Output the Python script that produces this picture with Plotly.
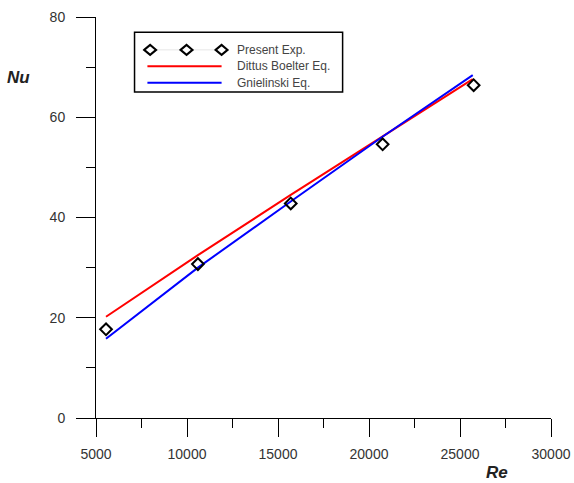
import plotly.graph_objects as go

# Experimental data
re_exp = [5550, 10600, 15700, 20750, 25750]
nu_exp = [17.7, 30.7, 42.8, 54.6, 66.4]

# Correlation lines
re_line = [5550, 10600, 15700, 20700, 25700]
nu_dittus = [20.2, 32.5, 44.5, 56.0, 67.6]
nu_gniel = [15.8, 30.0, 43.2, 56.0, 68.4]

x_ticks = [5000, 10000, 15000, 20000, 25000, 30000]
x_ticktext = ["5000", "10000", "15000", "20000", "25000", "30000"]
y_ticks = [0, 20, 40, 60, 80]
y_ticktext = ["0", "20", "40", "60", "80"]

legend_names = ["Present Exp.", "Dittus Boelter Eq.", "Gnielinski Eq."]

fig = go.Figure()
fig.add_trace(go.Scatter(x=re_line, y=nu_dittus, mode="lines",
                         line=dict(color="#ff0000", width=2), name=legend_names[1]))
fig.add_trace(go.Scatter(x=re_line, y=nu_gniel, mode="lines",
                         line=dict(color="#0000ff", width=2), name=legend_names[2]))
fig.add_trace(go.Scatter(x=re_exp, y=nu_exp, mode="markers",
                         marker=dict(symbol="diamond-open", size=9, color="black",
                                     line=dict(width=2, color="black")),
                         name=legend_names[0]))

tickfont = dict(family="Arial, Liberation Sans", size=14, color="#333333")

fig.update_xaxes(range=[5000, 30000], tickvals=x_ticks, ticktext=x_ticktext,
                 showgrid=False, zeroline=False,
                 showline=True, linecolor="black", linewidth=1,
                 ticks="outside", ticklen=18, tickcolor="black", tickwidth=1,
                 minor=dict(ticks="outside", ticklen=9, dtick=2500, tickcolor="black", tickwidth=1),
                 tickfont=tickfont, ticklabelstandoff=5, automargin=False)
fig.update_yaxes(range=[0, 80], tickvals=y_ticks, ticktext=y_ticktext,
                 showgrid=False, zeroline=False,
                 showline=True, linecolor="black", linewidth=1,
                 ticks="outside", ticklen=19, tickcolor="black", tickwidth=1,
                 minor=dict(ticks="outside", ticklen=9, dtick=10, tickcolor="black", tickwidth=1),
                 tickfont=tickfont, ticklabelstandoff=8, automargin=False)

# Custom legend box
shapes = [dict(type="rect", xref="paper", yref="paper", x0=0.0847, x1=0.542, y0=0.813, y1=0.962,
               line=dict(color="black", width=1.5), fillcolor="white", layer="above")]
row_y = [0.918, 0.877, 0.836]
line_x0, line_x1 = 0.113, 0.276
shapes.append(dict(type="line", xref="paper", yref="paper", x0=line_x0, x1=line_x1,
                   y0=row_y[0], y1=row_y[0], line=dict(color="#e6e6e6", width=1), layer="above"))
for dx in [0.119, 0.199, 0.276]:
    shapes.append(dict(type="path", xref="paper", yref="paper", xsizemode="pixel", ysizemode="pixel",
                       xanchor=dx, yanchor=row_y[0], path="M-6,0 L0,5 L6,0 L0,-5 Z",
                       line=dict(color="black", width=2), fillcolor="white", layer="above"))
shapes.append(dict(type="line", xref="paper", yref="paper", x0=line_x0, x1=line_x1,
                   y0=row_y[1], y1=row_y[1], line=dict(color="#ff0000", width=2), layer="above"))
shapes.append(dict(type="line", xref="paper", yref="paper", x0=line_x0, x1=line_x1,
                   y0=row_y[2], y1=row_y[2], line=dict(color="#0000ff", width=2), layer="above"))

annotations = []
for name, ry in zip(legend_names, row_y):
    annotations.append(dict(text=name, xref="paper", yref="paper", x=0.305, y=ry,
                            xanchor="left", yanchor="middle", showarrow=False,
                            font=dict(family="Arial, Liberation Sans", size=12, color="#444444")))
annotations.append(dict(text="<b><i>Nu</i></b>", xref="paper", yref="paper", x=-0.171, y=0.850,
                        xanchor="center", yanchor="middle", showarrow=False,
                        font=dict(family="Arial, Liberation Sans", size=17, color="#222222")))
annotations.append(dict(text="<b><i>Re</i></b>", xref="paper", yref="paper", x=0.881, y=-0.137,
                        xanchor="center", yanchor="middle", showarrow=False,
                        font=dict(family="Arial, Liberation Sans", size=17, color="#222222")))

fig.update_layout(width=574, height=483, margin=dict(l=96, r=23, t=17, b=65),
                  plot_bgcolor="white", paper_bgcolor="white", showlegend=False,
                  shapes=shapes, annotations=annotations)

# Remove the default 8px page margin so the figure fills the window exactly.
fig.write_html("out.html", config={"displayModeBar": False},
               post_script="document.body.style.margin='0';")
